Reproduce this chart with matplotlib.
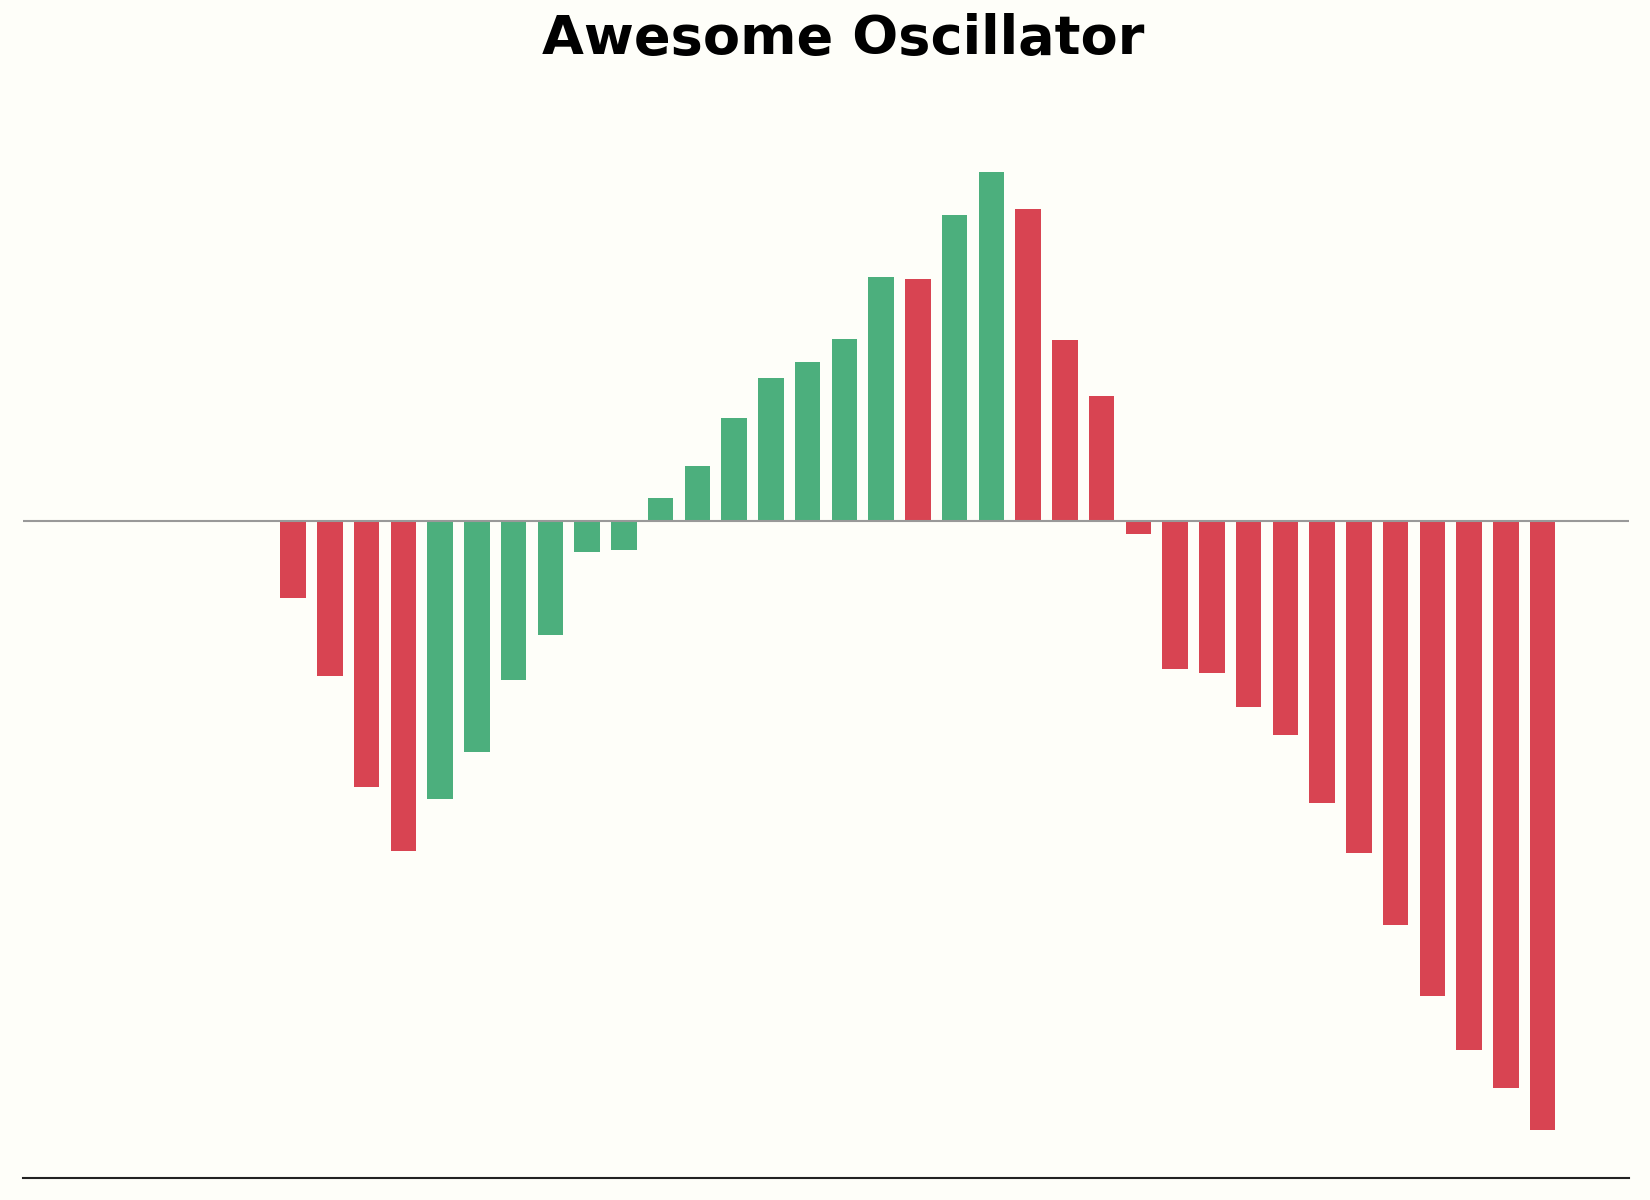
import numpy as np
import matplotlib
matplotlib.use("Agg")
import matplotlib.pyplot as plt

# awesome oscillator values (first 7 and last 2 periods have no value)
ao = [np.nan] * 7 + [
    -0.77, -1.54, -2.65, -3.29, -2.77, -2.30, -1.58, -1.14, -0.31, -0.29,
    0.23, 0.55, 1.03, 1.43, 1.59, 1.82, 2.44, 2.42, 3.06, 3.49,
    3.12, 1.81, 1.25, -0.13, -1.47, -1.51, -1.85, -2.13, -2.81, -3.31,
    -4.03, -4.74, -5.28, -5.66, -6.08,
] + [np.nan] * 2
title = "Awesome Oscillator"

green = "#4caf7d"
red = "#d84452"
bg = "#fefef9"

ao = np.array(ao)
x = np.arange(len(ao))
prev = np.concatenate([[np.nan], ao[:-1]])
colors = [green if v > p else red for v, p in zip(ao, prev)]

fig = plt.figure(figsize=(16.5, 12), dpi=100, facecolor=bg)
ax = fig.add_axes([23 / 1650, 22 / 1200, 1606 / 1650, 1054 / 1200])
ax.set_facecolor(bg)

ax.bar(x, np.nan_to_num(ao), width=0.7, color=colors, zorder=2)
ax.axhline(0, color="#999999", lw=1.5, zorder=3)

ax.set_xlim(-0.35, len(ao) - 0.65)
lo, hi = np.nanmin(ao), np.nanmax(ao)
pad = (hi - lo) * 0.05
ax.set_ylim(lo - pad, hi + pad)

for s in ["top", "left", "right"]:
    ax.spines[s].set_visible(False)
ax.spines["bottom"].set_color("#222222")
ax.spines["bottom"].set_linewidth(1.5)
ax.set_xticks([])
ax.set_yticks([])

fig.text(843 / 1650, 1 - 54 / 1200, title, ha="center", va="baseline",
         fontsize=39, fontweight="bold", color="black")

fig.savefig("out.png", dpi=100, facecolor=bg)
